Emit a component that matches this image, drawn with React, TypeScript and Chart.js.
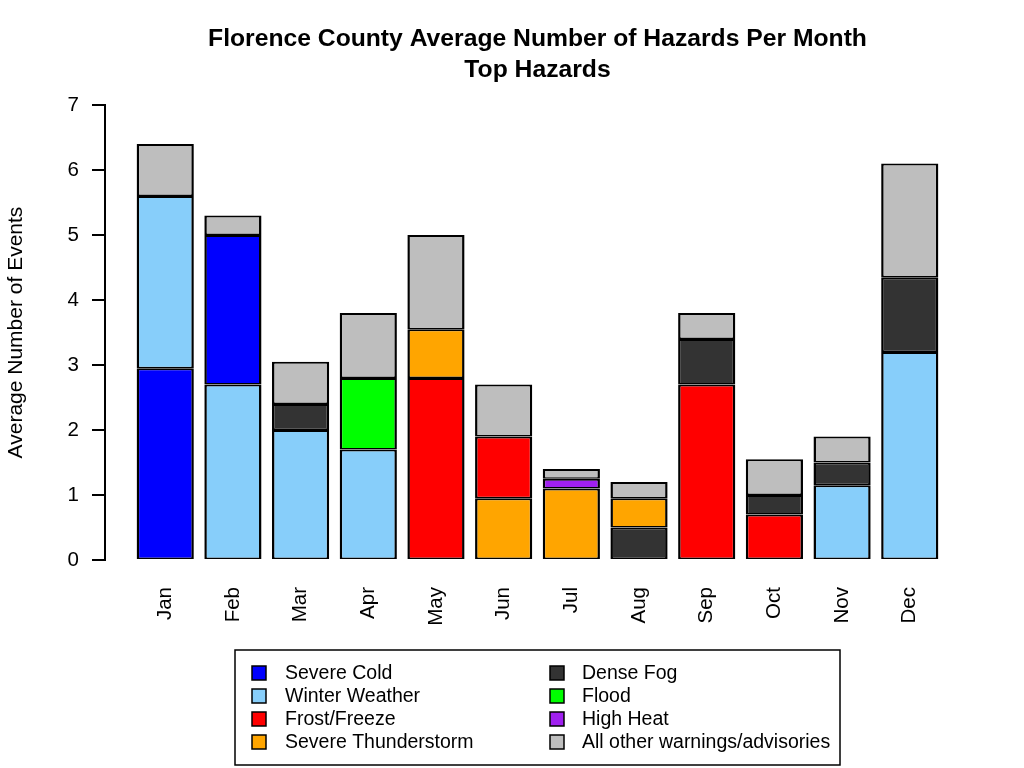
import { useEffect, useRef } from "react"
import { Chart, registerables } from "chart.js"

Chart.register(...registerables)

const months = ["Jan", "Feb", "Mar", "Apr", "May", "Jun", "Jul", "Aug", "Sep", "Oct", "Nov", "Dec"]

const hazards = [
  "Severe Cold",
  "Winter Weather",
  "Frost/Freeze",
  "Severe Thunderstorm",
  "Dense Fog",
  "Flood",
  "High Heat",
  "All other warnings/advisories",
]

const hazardColors = ["#0000FF", "#87CEFA", "#FF0000", "#FFA500", "#333333", "#00FF00", "#A020F0", "#BEBEBE"]

// average events per month, one array per hazard (Jan..Dec)
const severeCold = [2.95, 2.3, 0, 0, 0, 0, 0, 0, 0, 0, 0, 0]
const winterWeather = [2.65, 2.7, 2.0, 1.7, 0, 0, 0, 0, 0, 0, 1.15, 3.2]
const frostFreeze = [0, 0, 0, 0, 2.8, 0.95, 0, 0, 2.7, 0.7, 0, 0]
const severeThunderstorm = [0, 0, 0, 0, 0.75, 0.95, 1.1, 0.45, 0, 0, 0, 0]
const denseFog = [0, 0, 0.4, 0, 0, 0, 0, 0.5, 0.7, 0.3, 0.35, 1.15]
const flood = [0, 0, 0, 1.1, 0, 0, 0, 0, 0, 0, 0, 0]
const highHeat = [0, 0, 0, 0, 0, 0, 0.15, 0, 0, 0, 0, 0]
const allOther = [0.8, 0.3, 0.65, 1.0, 1.45, 0.8, 0.15, 0.25, 0.4, 0.55, 0.4, 1.75]

const hazardValues = [severeCold, winterWeather, frostFreeze, severeThunderstorm, denseFog, flood, highHeat, allOther]

// bottom-to-top stacking order of hazards (indices into hazards) for each month
const stackOrder = [
  [0, 1, 7],
  [1, 0, 7],
  [1, 4, 7],
  [1, 5, 7],
  [2, 3, 7],
  [3, 2, 7],
  [3, 6, 7],
  [4, 3, 7],
  [2, 4, 7],
  [2, 4, 7],
  [1, 4, 7],
  [1, 4, 7],
]

const yTicks = [0, 1, 2, 3, 4, 5, 6, 7]

const FONT = "'Liberation Sans', Arial, Helvetica, sans-serif"

const boxLegend = {
  id: "boxLegend",
  afterDraw(chart: Chart) {
    const { ctx } = chart
    ctx.save()
    ctx.lineWidth = 1.5
    ctx.strokeStyle = "#000"
    ctx.strokeRect(235, 650, 605, 115)
    ctx.font = `19.5px ${FONT}`
    ctx.textBaseline = "middle"
    ctx.textAlign = "left"
    chart.data.datasets.forEach((ds, i) => {
      const col = Math.floor(i / 4)
      const row = i % 4
      const sx = col === 0 ? 252 : 550
      const tx = col === 0 ? 285 : 582
      const y = 673 + row * 23
      ctx.fillStyle = ds.backgroundColor as string
      ctx.fillRect(sx, y - 7, 14, 14)
      ctx.lineWidth = 1.5
      ctx.strokeRect(sx, y - 7, 14, 14)
      ctx.fillStyle = "#000"
      ctx.fillText(ds.label as string, tx, y + 1)
    })
    ctx.restore()
  },
}

export default function App() {
  const chartRef = useRef<HTMLCanvasElement>(null)
  const chartInstance = useRef<Chart | null>(null)

  useEffect(() => {
    document.body.style.margin = "0"
    if (!chartRef.current) return
    if (chartInstance.current) chartInstance.current.destroy()

    Chart.defaults.font.family = FONT
    Chart.defaults.color = "#000"

    const datasets = hazards.map((label, h) => {
      const points: { x: number; y: [number, number] }[] = []
      months.forEach((_, m) => {
        const order = stackOrder[m]
        const pos = order.indexOf(h)
        if (pos < 0 || hazardValues[h][m] === 0) return
        let lo = 0
        for (let k = 0; k < pos; k++) lo += hazardValues[order[k]][m]
        points.push({ x: m, y: [lo, lo + hazardValues[h][m]] })
      })
      return {
        label,
        data: points,
        backgroundColor: hazardColors[h],
        borderColor: "#000",
        borderWidth: { top: 2, bottom: 1.5, left: 2.5, right: 2.5 },
        borderSkipped: false as const,
        inflateAmount: 0,
        grouped: false,
        barPercentage: 0.845,
        categoryPercentage: 1,
      }
    })

    const ctx = chartRef.current.getContext("2d")
    if (ctx) {
      chartInstance.current = new Chart(ctx, {
        type: "bar",
        data: { datasets },
        plugins: [boxLegend],
        options: {
          responsive: true,
          maintainAspectRatio: false,
          animation: false,
          layout: { padding: { left: 0, right: 54, top: 0, bottom: 128 } },
          plugins: {
            legend: { display: false },
            tooltip: { enabled: false },
            title: {
              display: true,
              fullSize: false,
              text: [
                "Florence County Average Number of Hazards Per Month",
                "Top Hazards",
              ],
              font: { size: 24.7, weight: "bold", lineHeight: 1.26 },
              color: "#000",
              padding: { top: 24, bottom: 18.8 },
            },
          },
          scales: {
            x: {
              type: "linear",
              min: -0.89,
              max: 11.89,
              offset: false,
              stacked: true,
              grid: { display: false, drawTicks: false },
              border: { display: false },
              afterBuildTicks: (scale) => {
                scale.ticks = months.map((_, i) => ({ value: i }))
              },
              afterFit: (scale) => {
                scale.height = 80
              },
              ticks: {
                autoSkip: false,
                minRotation: 90,
                maxRotation: 90,
                padding: 27,
                font: { size: 20.5 },
                color: "#000",
                callback: (value) => months[Number(value)] ?? "",
              },
            },
            y: {
              min: 0,
              max: 7,
              stacked: false,
              afterBuildTicks: (scale) => {
                scale.ticks = yTicks.map((v) => ({ value: v }))
              },
              afterFit: (scale) => {
                scale.width = 105
              },
              grid: {
                drawOnChartArea: false,
                tickLength: 13,
                color: "#000",
                lineWidth: 2,
              },
              border: { display: true, color: "#000", width: 2 },
              ticks: {
                padding: 13,
                font: { size: 20.5 },
                color: "#000",
              },
              title: {
                display: true,
                text: "Average Number of Events",
                font: { size: 21 },
                color: "#000",
                padding: { top: 4, bottom: 0 },
              },
            },
          },
        },
      })
    }

    return () => {
      if (chartInstance.current) {
        chartInstance.current.destroy()
        chartInstance.current = null
      }
    }
  }, [])

  return (
    <div style={{ position: "relative", width: 1024, height: 768 }}>
      <canvas ref={chartRef} />
    </div>
  )
}
